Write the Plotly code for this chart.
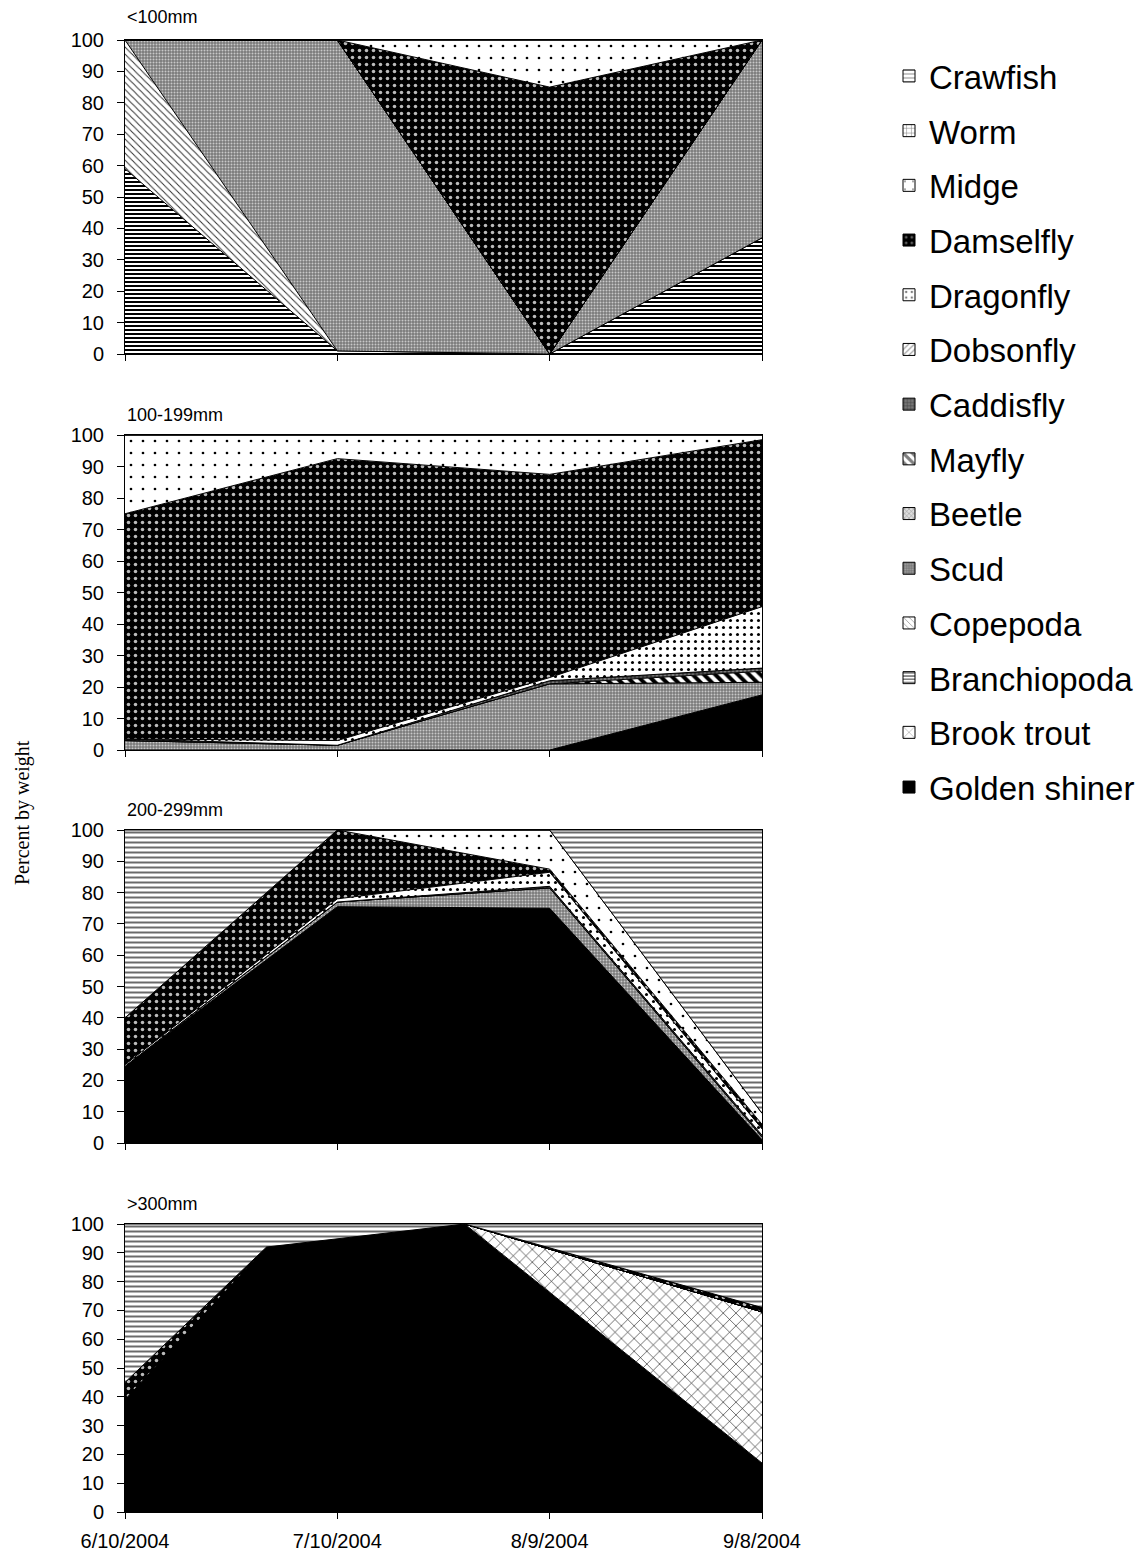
import plotly.graph_objects as go

# ---------------- data ----------------
DATES = ["2004-06-10", "2004-07-10", "2004-08-09", "2004-09-08"]
DATES_300 = ["2004-06-10", "2004-06-30", "2004-07-28", "2004-09-08"]
TICK_LABELS = ["6/10/2004", "7/10/2004", "8/9/2004", "9/8/2004"]
PANEL_TITLES = ["<100mm", "100-199mm", "200-299mm", ">300mm"]

# stacking order, bottom to top
SERIES = ["Golden shiner", "Brook trout", "Branchiopoda", "Copepoda", "Scud",
          "Beetle", "Mayfly", "Caddisfly", "Dobsonfly", "Dragonfly",
          "Damselfly", "Midge", "Worm", "Crawfish"]

LT100 = {
    "Branchiopoda": [59, 1, 0, 37],
    "Copepoda": [41, 0, 0, 0],
    "Scud": [0, 99, 0, 63],
    "Damselfly": [0, 0, 85, 0],
    "Midge": [0, 0, 15, 0],
}
MM100_199 = {
    "Golden shiner": [0, 0, 0, 17.5],
    "Scud": [3, 1.5, 21, 4],
    "Mayfly": [0, 0, 0, 3.5],
    "Caddisfly": [0.5, 0, 1, 1],
    "Dragonfly": [0, 1.5, 1, 19.5],
    "Damselfly": [71.5, 89.5, 64.5, 53],
    "Midge": [25, 7.5, 12.5, 1.5],
}
MM200_299 = {
    "Golden shiner": [24.5, 75.5, 75, 1],
    "Scud": [0, 1.5, 6.5, 1],
    "Caddisfly": [0, 0, 0.5, 0.5],
    "Dragonfly": [0.5, 1, 4.5, 2],
    "Damselfly": [15, 22, 1, 1.5],
    "Midge": [0, 0, 12.5, 3.5],
    "Crawfish": [60, 0, 0, 90.5],
}
GT300 = {
    "Golden shiner": [39, 92, 100, 17],
    "Brook trout": [0, 0, 0, 52.5],
    "Damselfly": [6, 0, 0, 1.5],
    "Crawfish": [55, 8, 0, 29],
}
PANEL_DATA = [LT100, MM100_199, MM200_299, GT300]
PANEL_DATES = [DATES, DATES, DATES, DATES_300]

# ---------------- styles ----------------
STYLE = {
    "Golden shiner": dict(color="black", pattern=dict(shape="")),
    "Brook trout": dict(color="white", pattern=dict(shape="x", fgcolor="black", bgcolor="white", size=9, solidity=0.12)),
    "Branchiopoda": dict(color="white", pattern=dict(shape="-", fgcolor="black", bgcolor="white", size=4, solidity=0.5)),
    "Copepoda": dict(color="white", pattern=dict(shape="\\", fgcolor="#333333", bgcolor="white", size=5, solidity=0.2)),
    "Scud": dict(color="#999999", pattern=dict(shape=".", fgcolor="#c8c8c8", bgcolor="#7a7a7a", size=3, solidity=0.35)),
    "Beetle": dict(color="#bbbbbb", pattern=dict(shape="x", fgcolor="#444444", bgcolor="#dddddd", size=4, solidity=0.3)),
    "Mayfly": dict(color="white", pattern=dict(shape="\\", fgcolor="black", bgcolor="white", size=8, solidity=0.5)),
    "Caddisfly": dict(color="#444444", pattern=dict(shape="+", fgcolor="black", bgcolor="#777777", size=4, solidity=0.3)),
    "Dobsonfly": dict(color="white", pattern=dict(shape="/", fgcolor="#444444", bgcolor="white", size=5, solidity=0.3)),
    "Dragonfly": dict(color="white", pattern=dict(shape=".", fgcolor="black", bgcolor="white", size=7, solidity=0.15)),
    "Damselfly": dict(color="black", pattern=dict(shape=".", fgcolor="#bbbbbb", bgcolor="black", size=7, solidity=0.2)),
    "Midge": dict(color="white", pattern=dict(shape=".", fgcolor="black", bgcolor="white", size=12, solidity=0.04)),
    "Worm": dict(color="white", pattern=dict(shape="+", fgcolor="black", bgcolor="white", size=6, solidity=0.2)),
    "Crawfish": dict(color="#cccccc", pattern=dict(shape="-", fgcolor="#6a6a6a", bgcolor="white", size=5, solidity=0.4)),
}

W, H = 1138, 1555
FONT = "Liberation Sans, Arial, sans-serif"


def py(p):
    return 1 - p / H


X_DOM = [125 / W, 762 / W]
Y_PIX = [(40, 354), (435, 750), (830, 1143), (1224, 1512)]
TITLE_Y = [17, 415, 810, 1204]

fig = go.Figure()

for i, (data, dates) in enumerate(zip(PANEL_DATA, PANEL_DATES), start=1):
    xa = "x" if i == 1 else f"x{i}"
    ya = "y" if i == 1 else f"y{i}"
    for name in SERIES:
        vals = data.get(name, [0, 0, 0, 0])
        st = STYLE[name]
        kw = dict(fillcolor=st["color"])
        if st["pattern"]["shape"]:
            kw["fillpattern"] = dict(fillmode="replace", **st["pattern"])
        fig.add_trace(go.Scatter(
            x=dates, y=vals, name=name, mode="lines",
            stackgroup=f"p{i}", line=dict(color="black", width=1),
            xaxis=xa, yaxis=ya, showlegend=False, hoverinfo="skip", **kw))

# legend entries (square swatches), listed top of stack first
for name in reversed(SERIES):
    st = STYLE[name]
    marker = dict(color=st["color"], line=dict(color="black", width=1))
    if st["pattern"]["shape"]:
        marker["pattern"] = st["pattern"]
    fig.add_trace(go.Bar(x=[None], y=[None], name=name, marker=marker,
                         legendgroup=name, showlegend=True,
                         xaxis="x", yaxis="y", hoverinfo="skip"))

layout = dict(
    width=W, height=H,
    margin=dict(l=0, r=0, t=0, b=0, autoexpand=False),
    paper_bgcolor="white", plot_bgcolor="white",
    font=dict(family=FONT, size=20, color="black"),
    showlegend=True,
    legend=dict(x=889 / W, y=py(48), xanchor="left", yanchor="top",
                font=dict(family=FONT, size=33, color="black"),
                traceorder="grouped", tracegroupgap=8.8,
                bgcolor="rgba(0,0,0,0)"),
    annotations=[],
)

for i in range(1, 5):
    t, b = Y_PIX[i - 1]
    xk = "xaxis" if i == 1 else f"xaxis{i}"
    yk = "yaxis" if i == 1 else f"yaxis{i}"
    layout[xk] = dict(
        domain=X_DOM, anchor="y" if i == 1 else f"y{i}", type="date",
        range=[DATES[0], DATES[-1]], tickmode="array", tickvals=DATES,
        ticktext=TICK_LABELS, showticklabels=(i == 4),
        ticks="outside", ticklen=6, tickcolor="black",
        showline=True, linecolor="black", linewidth=1, mirror=True,
        showgrid=False, zeroline=False, ticklabelstandoff=5,
        tickfont=dict(size=20))
    layout[yk] = dict(
        domain=[py(b), py(t)], anchor="x" if i == 1 else f"x{i}",
        range=[0, 100], tickmode="linear", tick0=0, dtick=10,
        ticks="outside", ticklen=7, tickcolor="black",
        showline=True, linecolor="black", linewidth=1, mirror=True,
        showgrid=False, zeroline=False, ticklabelstandoff=9,
        tickfont=dict(size=20))
    layout["annotations"].append(dict(
        text=PANEL_TITLES[i - 1], xref="paper", yref="paper",
        x=125 / W, y=py(TITLE_Y[i - 1]), xanchor="left", yanchor="middle",
        showarrow=False, font=dict(size=18, family=FONT)))

layout["annotations"].append(dict(
    text="Percent by weight", xref="paper", yref="paper",
    x=22 / W, y=py(813), xanchor="center", yanchor="middle",
    textangle=-90, showarrow=False,
    font=dict(size=20, family="Liberation Serif, Times New Roman, serif")))

fig.update_layout(**layout)
fig.write_html("out.html")
